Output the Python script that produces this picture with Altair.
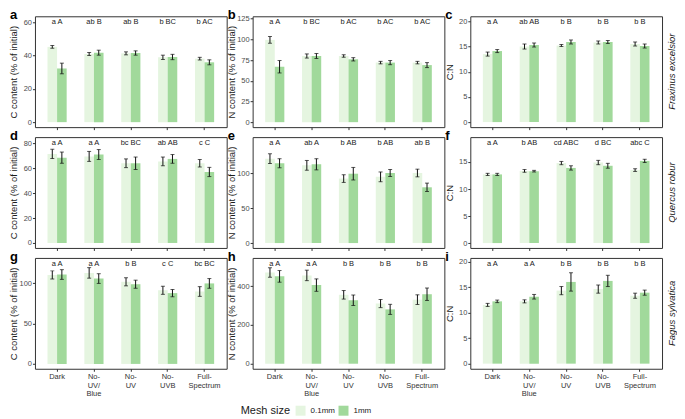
import altair as alt
import pandas as pd

conds = ["Dark", "No-|UV/|Blue", "No-|UV", "No-|UVB", "Full-|Spectrum"]
meshes = ["0.1mm", "1mm"]
colors = ["#e5f5e0", "#a1d99b"]
species = ["Fraxinus excelsior", "Quercus robur", "Fagus sylvatica"]
ytitles = ["C content (% of initial)", "N content (% of initial)", "C:N"]

# ---- Fraxinus excelsior ----
a_m01 = [45.3, 41.0, 41.4, 39.0, 38.2]
a_m1 = [32.3, 41.8, 41.6, 39.2, 36.0]
a_e01 = [0.8, 0.9, 0.9, 1.3, 0.8]
a_e1 = [3.2, 1.5, 1.3, 1.6, 1.5]
a_lab = ["a A", "ab B", "ab B", "b BC", "b AC"]

b_m01 = [99.5, 80.0, 80.0, 72.0, 72.0]
b_m1 = [67.0, 80.0, 76.0, 72.0, 69.0]
b_e01 = [4.0, 2.5, 1.5, 1.5, 1.5]
b_e1 = [7.5, 3.0, 2.0, 2.5, 3.0]
b_lab = ["a A", "b BC", "b AC", "b AC", "b AC"]

c_m01 = [13.5, 15.0, 15.2, 15.8, 15.5]
c_m1 = [14.1, 15.3, 15.9, 15.9, 15.1]
c_e01 = [0.4, 0.5, 0.2, 0.3, 0.4]
c_e1 = [0.3, 0.4, 0.4, 0.3, 0.4]
c_lab = ["a A", "ab AB", "b B", "b B", "b B"]

# ---- Quercus robur ----
d_m01 = [71.5, 69.5, 64.0, 65.5, 64.0]
d_m1 = [68.5, 71.0, 64.0, 67.5, 57.0]
d_e01 = [3.7, 4.0, 3.5, 3.5, 3.0]
d_e1 = [4.5, 4.0, 5.0, 3.5, 3.7]
d_lab = ["a A", "a A", "bc BC", "ab AB", "c C"]

e_m01 = [121.0, 111.5, 92.5, 95.0, 100.5]
e_m1 = [114.5, 113.0, 99.5, 100.5, 80.0]
e_e01 = [7.0, 7.0, 5.5, 7.0, 5.5]
e_e1 = [6.5, 8.0, 9.0, 5.0, 6.0]
e_lab = ["a A", "ab A", "b AB", "b AB", "ab B"]

f_m01 = [12.7, 13.35, 14.8, 14.9, 13.5]
f_m1 = [12.7, 13.3, 13.9, 14.3, 15.2]
f_e01 = [0.2, 0.25, 0.3, 0.4, 0.25]
f_e1 = [0.2, 0.15, 0.4, 0.45, 0.3]
f_lab = ["a A", "b AB", "cd ABC", "d BC", "abc C"]

# ---- Fagus sylvatica ----
g_m01 = [110.0, 112.5, 101.5, 91.0, 89.5]
g_m1 = [110.5, 105.5, 98.5, 87.5, 99.5]
g_e01 = [5.0, 6.5, 5.0, 5.0, 6.0]
g_e1 = [6.0, 6.0, 5.0, 4.5, 6.0]
g_lab = ["a A", "a A", "b B", "c C", "bc BC"]

h_m01 = [470.0, 455.0, 355.0, 310.0, 330.0]
h_m1 = [450.0, 405.0, 327.0, 280.0, 358.0]
h_e01 = [24.0, 27.0, 22.0, 21.0, 25.0]
h_e1 = [30.0, 32.0, 27.0, 26.0, 32.0]
h_lab = ["a A", "a A", "b B", "b B", "b B"]

i_m01 = [11.5, 12.2, 14.3, 14.6, 13.3]
i_m1 = [12.2, 13.1, 16.0, 16.2, 13.9]
i_e01 = [0.3, 0.3, 0.8, 0.8, 0.5]
i_e1 = [0.25, 0.45, 1.8, 1.1, 0.5]
i_lab = ["a A", "a A", "b B", "b B", "b B"]

W, H = 192, 111


def panel(letter, m01, m1, e01, e1, labs, dom, ticks, col, row):
    df = pd.DataFrame({
        "cond": conds * 2,
        "mesh": [meshes[0]] * 5 + [meshes[1]] * 5,
        "mean": m01 + m1,
        "err": e01 + e1,
    })
    df["lo"] = df["mean"] - df["err"]
    df["hi"] = df["mean"] + df["err"]
    lab_df = pd.DataFrame({"cond": conds, "lab": labs})

    show_x = row == 2
    xaxis = alt.Axis(
        title=None, labels=show_x, labelAngle=0, labelExpr="split(datum.label, '|')",
        labelFontSize=7.5, labelLineHeight=8.5, labelColor="#333", labelPadding=1.5,
        tickSize=2.5, domain=False,
    )
    xenc = alt.X("cond:N", sort=conds, axis=xaxis,
                 scale=alt.Scale(paddingInner=0.48, paddingOuter=0.34))
    xoff = alt.XOffset("mesh:N", sort=meshes, scale=alt.Scale(paddingInner=0, paddingOuter=0))
    yscale = alt.Scale(domain=dom, nice=False, zero=False)
    yaxis = alt.Axis(title=ytitles[col], values=ticks, titleX=-16,
                     titleFontSize=9.5, labelFontSize=7.5, labelPadding=1,
                     tickSize=2.5, domain=False, labelColor="#4d4d4d",
                     titleColor="#1a1a1a", titleFontWeight="normal")

    base = alt.Chart(df).encode(x=xenc, xOffset=xoff)
    bars = base.mark_bar().encode(
        y=alt.Y("mean:Q", scale=yscale, stack=None, axis=yaxis),
        color=alt.Color("mesh:N", sort=meshes,
                        scale=alt.Scale(domain=meshes, range=colors),
                        legend=alt.Legend(title="Mesh size", orient="none", legendX=206,
                                          legendY=390, direction="horizontal",
                                          titleOrient="left", titleFontSize=11,
                                          titleFontWeight="normal", titleColor="#1a1a1a",
                                          labelFontSize=8, labelColor="#1a1a1a",
                                          symbolType="square", symbolSize=100,
                                          symbolStrokeWidth=0, columnPadding=3,
                                          labelOffset=5, titlePadding=5)),
    )
    rules = base.mark_rule(color="#111", strokeWidth=1).encode(
        y=alt.Y("lo:Q", scale=yscale, axis=yaxis), y2="hi:Q")
    cap_lo = base.mark_tick(color="#111", thickness=1, size=4).encode(
        y=alt.Y("lo:Q", scale=yscale, axis=yaxis))
    cap_hi = base.mark_tick(color="#111", thickness=1, size=4).encode(
        y=alt.Y("hi:Q", scale=yscale, axis=yaxis))
    labels = alt.Chart(lab_df).mark_text(fontSize=7.5, color="#1a1a1a", baseline="middle").encode(
        x=alt.X("cond:N", sort=conds), text="lab:N", y=alt.value(6))
    let = alt.Chart(pd.DataFrame({"t": [letter]})).mark_text(
        fontSize=13, fontWeight="bold", align="left", baseline="middle", color="#000").encode(
        text="t:N", x=alt.value(-25), y=alt.value(-1))
    layers = [bars, rules, cap_lo, cap_hi, labels, let]
    if col == 2:
        sp = alt.Chart(pd.DataFrame({"t": [species[row]]})).mark_text(
            fontSize=9.5, fontStyle="italic", angle=270, align="center", baseline="middle",
            color="#1a1a1a").encode(text="t:N", x=alt.value(W + 10), y=alt.value(H / 2))
        layers.append(sp)
    return alt.layer(*layers).properties(width=W, height=H)


panels = [
    panel("a", a_m01, a_m1, a_e01, a_e1, a_lab, [-3, 63.7], [0, 20, 40, 60], 0, 0),
    panel("b", b_m01, b_m1, b_e01, b_e1, b_lab, [-6, 128], [0, 25, 50, 75, 100, 125], 1, 0),
    panel("c", c_m01, c_m1, c_e01, c_e1, c_lab, [-1, 21], [0, 5, 10, 15, 20], 2, 0),
    panel("d", d_m01, d_m1, d_e01, d_e1, d_lab, [-4, 85], [0, 20, 40, 60, 80], 0, 1),
    panel("e", e_m01, e_m1, e_e01, e_e1, e_lab, [-7, 152], [0, 50, 100], 1, 1),
    panel("f", f_m01, f_m1, f_e01, f_e1, f_lab, [-0.9, 19.6], [0, 5, 10, 15], 2, 1),
    panel("g", g_m01, g_m1, g_e01, g_e1, g_lab, [-6, 131], [0, 50, 100], 0, 2),
    panel("h", h_m01, h_m1, h_e01, h_e1, h_lab, [-26, 545], [0, 200, 400], 1, 2),
    panel("i", i_m01, i_m1, i_e01, i_e1, i_lab, [-1, 20.7], [0, 5, 10, 15, 20], 2, 2),
]

chart = alt.concat(*panels, columns=3, spacing={"row": 10, "column": 26}, bounds="flush").properties(
    padding=0
).configure(font="Liberation Sans").configure_view(
    stroke="#333", strokeWidth=1
).configure_axis(grid=False, tickColor="#333")

chart.save("out.html", embed_options={"renderer": "svg", "actions": False})
